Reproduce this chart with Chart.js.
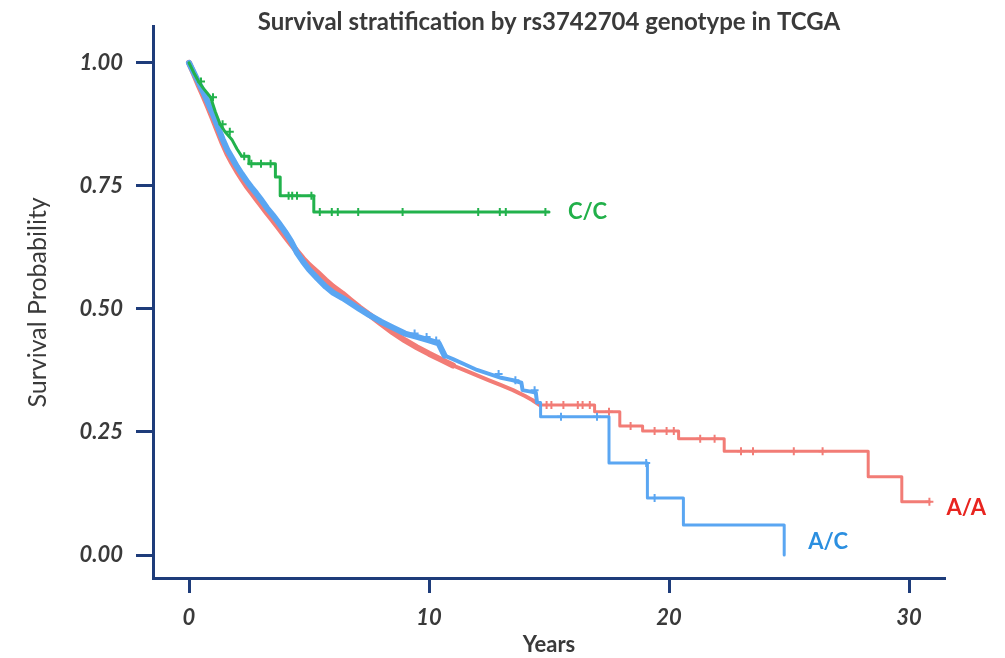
<!DOCTYPE html>
<html>
<head>
<meta charset="utf-8">
<script src="https://cdn.jsdelivr.net/npm/chart.js@4.4.0/dist/chart.umd.min.js"></script>
<style>
  body { margin: 0; background: #fff; }
  #wrap { width: 1005px; height: 658px; }
</style>
</head>
<body>
<div id="wrap"><canvas id="km"></canvas></div>
<script>
// KM curves: years and survival probability at each step
const ccYears = [0, 0.2, 0.4, 0.6, 0.9, 1.1, 1.3, 1.5, 1.8, 2.0, 2.2, 2.5, 3.6, 3.8, 5.2, 15.0];
const ccSurv  = [1, 0.98, 0.962, 0.948, 0.93, 0.9, 0.875, 0.86, 0.843, 0.825, 0.81, 0.795, 0.768, 0.73, 0.697, 0.697];

const acYears = [0, 0.2, 0.4, 0.6, 0.8, 1.0, 1.2, 1.4, 1.6, 1.8, 2.0, 2.2, 2.4, 2.6, 2.8, 3.0, 3.25, 3.5, 3.75,
  4.0, 4.25, 4.5, 4.75, 5.0, 5.35, 5.7, 6.0, 6.4, 6.72, 7.1, 7.5, 8.0, 8.5, 9.0, 9.5, 10.0, 10.4, 10.65,
  11.0, 11.5, 12.0, 12.5, 13.0, 13.5, 13.85, 13.9, 14.45, 14.5, 14.65, 17.5, 19.1, 20.6, 24.8];
const acSurv  = [1, 0.98, 0.96, 0.94, 0.918, 0.895, 0.87, 0.845, 0.823, 0.806, 0.789, 0.774, 0.76, 0.747, 0.735, 0.722, 0.705, 0.69, 0.674,
  0.657, 0.638, 0.614, 0.596, 0.58, 0.562, 0.545, 0.533, 0.522, 0.512, 0.5, 0.488, 0.474, 0.462, 0.45, 0.443, 0.436, 0.43, 0.405,
  0.398, 0.387, 0.376, 0.368, 0.36, 0.355, 0.35, 0.335, 0.33, 0.31, 0.281, 0.187, 0.116, 0.061, 0];

const aaYears = [0, 0.2, 0.4, 0.6, 0.8, 1.0, 1.2, 1.4, 1.6, 1.8, 2.0, 2.2, 2.4, 2.6, 2.8, 3.0, 3.25, 3.5, 3.75,
  4.0, 4.25, 4.5, 4.75, 5.0, 5.35, 5.7, 6.0, 6.4, 6.72, 7.1, 7.5, 8.0, 8.5, 9.0, 9.5, 10.0, 10.5, 11.0,
  11.5, 12.0, 12.5, 13.0, 13.5, 14.0, 14.3, 14.6, 16.9, 17.95, 18.9, 20.4, 22.3, 28.3, 29.7, 30.85];
const aaSurv  = [1, 0.978, 0.955, 0.933, 0.91, 0.886, 0.861, 0.837, 0.815, 0.797, 0.78, 0.765, 0.75, 0.737, 0.724, 0.711, 0.695, 0.68, 0.664,
  0.648, 0.632, 0.617, 0.602, 0.589, 0.574, 0.558, 0.545, 0.531, 0.518, 0.503, 0.489, 0.47, 0.452, 0.436, 0.422, 0.409, 0.397, 0.385,
  0.375, 0.365, 0.355, 0.345, 0.335, 0.323, 0.315, 0.305, 0.291, 0.262, 0.252, 0.236, 0.211, 0.159, 0.108, 0.108];

// censored observations (years)
const ccCensor = [0.5, 1.0, 1.4, 1.7, 2.3, 2.6, 3.0, 3.4, 4.15, 4.3, 4.5, 5.1, 5.45, 5.95, 6.2, 7.05, 8.9, 12.05, 12.95, 13.2, 14.85];
const acCensor = [9.4, 9.9, 10.3, 12.9, 13.6, 14.4, 15.5, 17.0, 19.05, 19.4];
const aaCensor = [14.9, 15.1, 15.6, 16.2, 16.4, 16.7, 17.5, 18.4, 19.4, 19.9, 20.2, 21.3, 21.9, 23.0, 23.5, 25.2, 26.4, 30.85];

const xTicks = [0, 10, 20, 30];
const yTicks = [0, 0.25, 0.5, 0.75, 1];

const AXIS = '#1e3c7a';
const TXT = '#3a3a3a';

// dense: up to which year the many small steps blur into a thick band
const curves = [
  { label: 'C/C', years: ccYears, surv: ccSurv, censor: ccCensor, line: '#22b24c', text: '#22b04a', dense: 2.2, thick: 3, dx: 19, dy: 0 },
  { label: 'A/C', years: acYears, surv: acSurv, censor: acCensor, line: '#5aa6f2', text: '#2b8fe0', dense: 14.5, thick: 6, dx: 24, dy: -13 },
  { label: 'A/A', years: aaYears, surv: aaSurv, censor: aaCensor, line: '#f27c76', text: '#e8241f', dense: 14.6, thick: 6, dx: 17, dy: 6 }
];

function survAt(years, surv, t) {
  let s = surv[0];
  for (let i = 0; i < years.length; i++) {
    if (years[i] <= t) s = surv[i];
  }
  return s;
}

// step corners only where single steps are visible
function kmPoints(c) {
  const pts = [];
  c.years.forEach((t, k) => {
    if (k > 0 && t > c.dense) pts.push({ x: t, y: c.surv[k - 1] });
    pts.push({ x: t, y: c.surv[k] });
  });
  return pts;
}

const datasets = [];
curves.forEach((c, i) => {
  datasets.push({
    label: c.label,
    data: kmPoints(c),
    borderColor: c.line,
    borderWidth: 3,
    borderJoinStyle: 'round',
    borderCapStyle: 'round',
    pointRadius: 0,
    fill: false,
    order: i * 2 + 1,
    segment: {
      borderWidth: ctx => ctx.p0.parsed.x < Math.min(c.dense, 10.6) ? c.thick : (ctx.p0.parsed.x < c.dense ? 4 : 3)
    }
  });
  datasets.push({
    label: c.label + ' censored',
    data: c.censor.map(t => ({ x: t, y: survAt(c.years, c.surv, t) })),
    showLine: false,
    pointStyle: 'cross',
    pointRadius: 4,
    pointBorderWidth: 2,
    pointBorderColor: c.line,
    order: i * 2
  });
});

const endLabels = {
  id: 'endLabels',
  afterDatasetsDraw(chart) {
    const { ctx, scales: { x, y } } = chart;
    ctx.save();
    ctx.font = 'bold 22px Lato';
    ctx.textBaseline = 'middle';
    ctx.textAlign = 'left';
    curves.forEach(c => {
      const n = c.years.length - 1;
      ctx.fillStyle = c.text;
      ctx.fillText(c.label, x.getPixelForValue(c.years[n]) + c.dx, y.getPixelForValue(c.surv[n]) + c.dy);
    });
    ctx.restore();
  }
};

new Chart(document.getElementById('km'), {
  type: 'line',
  data: { datasets },
  plugins: [endLabels],
  options: {
    responsive: true,
    maintainAspectRatio: false,
    animation: false,
    layout: { padding: { left: 0, right: 60, top: 0, bottom: 0 } },
    plugins: {
      legend: { display: false },
      tooltip: { enabled: false },
      title: {
        display: true,
        text: 'Survival stratification by rs3742704 genotype in TCGA',
        fullSize: false,
        color: TXT,
        font: { family: 'Lato', size: 24, weight: 'bold' },
        padding: { top: 8, bottom: -10 }
      }
    },
    scales: {
      x: {
        type: 'linear',
        min: -1.5,
        max: 31.5,
        afterFit: s => { s.height = 80; },
        afterBuildTicks: s => { s.ticks = xTicks.map(v => ({ value: v })); },
        border: { display: true, color: AXIS, width: 3 },
        grid: { drawOnChartArea: false, drawTicks: true, tickLength: 15, tickWidth: 3, tickColor: AXIS, color: AXIS },
        ticks: { color: TXT, padding: 12, font: { family: 'Lato', size: 22, weight: 'bold', style: 'italic' } },
        title: { display: true, text: 'Years', color: TXT, padding: { top: 0, bottom: 0 },
                 font: { family: 'Lato', size: 22, weight: 'bold' } }
      },
      y: {
        type: 'linear',
        min: -0.0467,
        max: 1.0732,
        afterFit: s => { s.width = 153; },
        afterBuildTicks: s => { s.ticks = yTicks.map(v => ({ value: v })); },
        border: { display: true, color: AXIS, width: 3 },
        grid: { drawOnChartArea: false, drawTicks: true, tickLength: 17, tickWidth: 3, tickColor: AXIS, color: AXIS },
        ticks: { color: TXT, padding: 13, callback: v => v.toFixed(2),
                 font: { family: 'Lato', size: 22, weight: 'bold', style: 'italic' } },
        title: { display: true, text: 'Survival Probability', color: TXT, padding: { top: 23, bottom: 0 },
                 font: { family: 'Lato', size: 25 } }
      }
    }
  }
});
</script>
</body>
</html>
